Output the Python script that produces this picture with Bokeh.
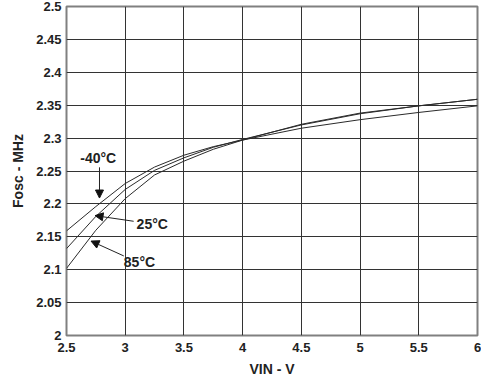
from bokeh.plotting import figure
from bokeh.models import Range1d, FixedTicker, Label, Arrow, NormalHead
from bokeh.embed import file_html
from bokeh.resources import INLINE

# ---- data ----
vin = [2.5, 2.75, 3.0, 3.25, 3.5, 3.75, 4.0, 4.5, 5.0, 5.5, 6.0]
f_m40 = [2.159, 2.196, 2.231, 2.256, 2.274, 2.287, 2.297, 2.315, 2.328, 2.339, 2.349]
f_25 = [2.132, 2.181, 2.222, 2.251, 2.270, 2.286, 2.298, 2.320, 2.337, 2.349, 2.359]
f_85 = [2.102, 2.160, 2.208, 2.244, 2.265, 2.283, 2.297, 2.321, 2.338, 2.349, 2.359]

x_ticks = [2.5, 3.0, 3.5, 4.0, 4.5, 5.0, 5.5, 6.0]
x_labels = ["2.5", "3", "3.5", "4", "4.5", "5", "5.5", "6"]
y_ticks = [2.0, 2.05, 2.1, 2.15, 2.2, 2.25, 2.3, 2.35, 2.4, 2.45, 2.5]
y_labels = ["2", "2.05", "2.1", "2.15", "2.2", "2.25", "2.3", "2.35", "2.4", "2.45", "2.5"]

FONT = "Liberation Sans"
INK = "#222222"
W, H = 481, 380

p = figure(width=W, height=H, output_backend="svg", toolbar_location=None,
           x_range=Range1d(2.5, 6.0), y_range=Range1d(2.0, 2.5),
           min_border_left=66, min_border_right=4, min_border_top=6, min_border_bottom=45)
p.background_fill_color = "white"
p.border_fill_color = "white"
p.outline_line_color = "#808080"
p.outline_line_width = 2

p.xaxis.ticker = FixedTicker(ticks=x_ticks)
p.yaxis.ticker = FixedTicker(ticks=y_ticks)
p.xaxis.major_label_overrides = dict(zip(x_ticks, x_labels))
p.yaxis.major_label_overrides = dict(zip(y_ticks, y_labels))
for ax in (p.xaxis, p.yaxis):
    ax.axis_line_color = None
    ax.major_tick_line_color = None
    ax.minor_tick_line_color = None
    ax.major_tick_out = 0
    ax.major_tick_in = 0
    ax.major_label_text_font = FONT
    ax.major_label_text_font_style = "bold"
    ax.major_label_text_font_size = "13px"
    ax.major_label_text_color = INK
    ax.axis_label_text_font = FONT
    ax.axis_label_text_font_style = "bold"
    ax.axis_label_text_font_size = "14px"
    ax.axis_label_text_color = INK
p.xaxis.major_label_standoff = 7
p.yaxis.major_label_standoff = 5

p.yaxis.axis_label = "Fosc - MHz"
p.yaxis.axis_label_standoff = 7
p.xaxis.axis_label = "VIN - V"
p.xaxis.axis_label_standoff = 6

p.xgrid.grid_line_color = "#333333"
p.ygrid.grid_line_color = "#333333"
p.xgrid.grid_line_width = 1
p.ygrid.grid_line_width = 1

for ys in (f_m40, f_25, f_85):
    p.line(vin, ys, line_color="#2a2a2a", line_width=1)

# annotations
def note(txt, x, y, align):
    p.add_layout(Label(x=x, y=y, text=txt, text_align=align, text_baseline="middle",
                       text_font=FONT, text_font_style="bold", text_font_size="14px",
                       text_color=INK))

def arrow(x0, y0, x1, y1):
    p.add_layout(Arrow(x_start=x0, y_start=y0, x_end=x1, y_end=y1,
                       line_color="#222222", line_width=1,
                       end=NormalHead(size=8, fill_color="#111111", line_color="#111111")))

note("-40°C", 2.770, 2.2696, "center")
arrow(2.781, 2.2556, 2.781, 2.2089)
note("25°C", 3.097, 2.1687, "left")
arrow(3.072, 2.1736, 2.743, 2.1822)
note("85°C", 2.988, 2.1114, "left")
arrow(2.988, 2.1209, 2.709, 2.1435)

open("out.html", "w").write(file_html(p, INLINE))
